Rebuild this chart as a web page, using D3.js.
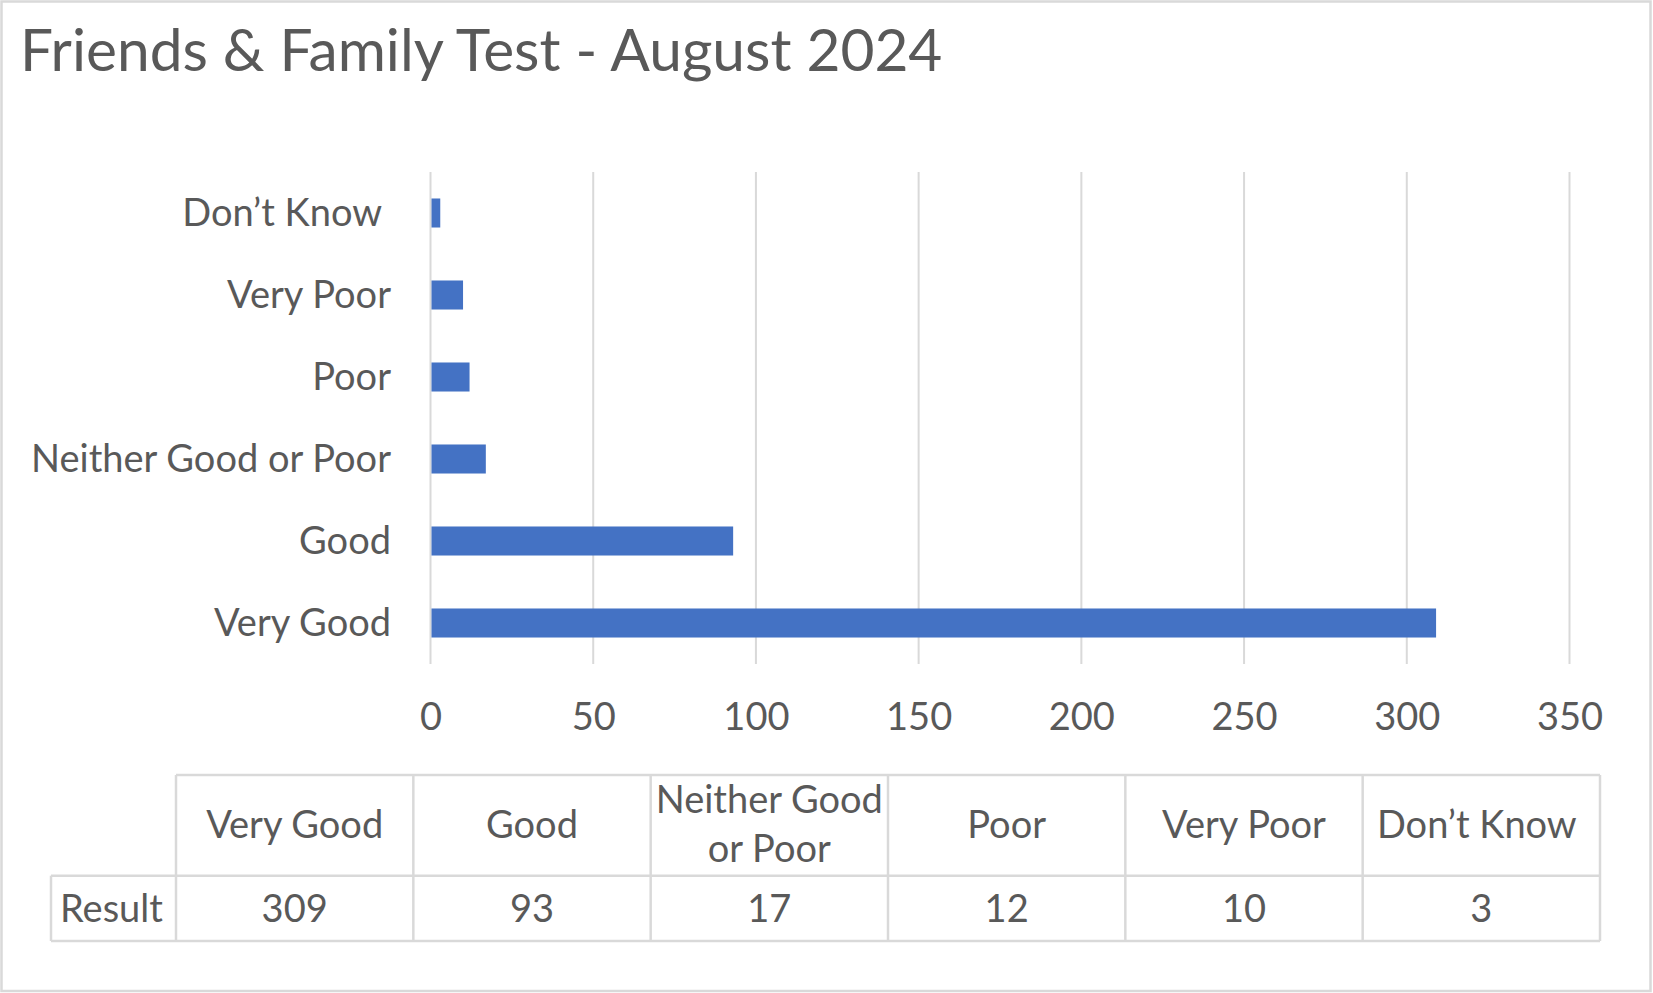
<!DOCTYPE html>
<html><head><meta charset="utf-8">
<script src="https://cdn.jsdelivr.net/npm/d3@7"></script>
<style>
body{margin:0;background:#fff}
text{font-family:Lato,"Open Sans",sans-serif;fill:#595959;white-space:pre}
</style>
</head><body><svg id="c" width="1653" height="993"></svg>
<script>
const title = "Friends & Family Test - August 2024";
const categories = ["Very Good","Good","Neither Good or Poor","Poor","Very Poor","Don’t Know "];
const values = [309,93,17,12,10,3];
const tickValues = [0,50,100,150,200,250,300,350];
const tableHeaders = [["Very Good"],["Good"],["Neither Good","or Poor"],["Poor"],["Very Poor"],["Don’t Know "]];
const rowLabel = "Result";

(function(){
const svg = d3.select("#c");
const grey = "#d9d9d9";
const blue = "#4472C4";
const data = categories.map((c,i)=>({c, v: values[i]}));

svg.append("rect").attr("x",1.5).attr("y",1.5).attr("width",1649).attr("height",989.5)
  .attr("fill","#fff").attr("stroke",grey).attr("stroke-width",2.5);

svg.append("text").attr("x",20).attr("y",70.5).attr("font-size",58.6).text(title);

const x = d3.scaleLinear().domain([0,350]).range([430.5,1569.5]);
const y = d3.scaleBand().domain(categories.slice().reverse()).range([172,664])
  .paddingInner(0.646).paddingOuter(0.323);

svg.append("g").selectAll("line").data(tickValues).join("line")
  .attr("x1",d=>x(d)).attr("x2",d=>x(d)).attr("y1",172).attr("y2",664)
  .attr("stroke",grey).attr("stroke-width",2);

svg.append("g").selectAll("rect").data(data).join("rect")
  .attr("x",x(0)+1).attr("y",d=>y(d.c)).attr("height",y.bandwidth())
  .attr("width",d=>x(d.v)-x(0)-1).attr("fill",blue);

const xa = svg.append("g").attr("transform","translate(0,717)")
  .call(d3.axisBottom(x).tickValues(tickValues).tickSize(0).tickPadding(0));
xa.select(".domain").remove();
xa.attr("font-family",null).attr("font-size",null);
xa.selectAll("text").attr("font-size",38).attr("fill","#595959").attr("dy","0.35em").attr("y",0);

const ya = svg.append("g").attr("transform","translate(391,0)")
  .call(d3.axisLeft(y).tickSize(0).tickPadding(0));
ya.select(".domain").remove();
ya.attr("font-family",null).attr("font-size",null);
ya.selectAll("text").attr("font-size",38).attr("fill","#595959").attr("dy","0.35em");

const tx = d3.scaleBand().domain(categories).range([176,1600]);
const tTop = 775, tMid = 875.7, tBot = 941, tLeft = 51, tRight = 1600;
const tg = svg.append("g");
tg.append("line").attr("x1",tx.range()[0]).attr("x2",tRight).attr("y1",tTop).attr("y2",tTop);
tg.append("line").attr("x1",tLeft).attr("x2",tRight).attr("y1",tMid).attr("y2",tMid);
tg.append("line").attr("x1",tLeft).attr("x2",tRight).attr("y1",tBot).attr("y2",tBot);
tg.append("line").attr("x1",tLeft).attr("x2",tLeft).attr("y1",tMid).attr("y2",tBot);
const edges = categories.map(c=>tx(c)).concat([tRight]);
tg.selectAll("line.v").data(edges).join("line").attr("class","v")
  .attr("x1",d=>d).attr("x2",d=>d).attr("y1",tTop).attr("y2",tBot);
tg.selectAll("line").attr("stroke",grey).attr("stroke-width",2.5);

tg.selectAll("text.h").data(tableHeaders).join("text").attr("class","h")
  .attr("text-anchor","middle").attr("font-size",38)
  .each(function(lines,i){
    const t = d3.select(this);
    const cx = tx(categories[i]) + tx.bandwidth()/2;
    const cy = (tTop+tMid)/2 - 1;
    const lh = 49;
    lines.forEach((l,j)=>{
      t.append("tspan").attr("x",cx)
        .attr("y", cy + (j - (lines.length-1)/2)*lh)
        .attr("dy","0.35em").text(l);
    });
  });
tg.selectAll("text.v").data(values).join("text").attr("class","v")
  .attr("text-anchor","middle").attr("font-size",38)
  .attr("x",(d,i)=>tx(categories[i])+tx.bandwidth()/2)
  .attr("y",(tMid+tBot)/2).attr("dy","0.35em").text(d=>d);
tg.append("text").attr("x",tLeft+9).attr("y",(tMid+tBot)/2).attr("dy","0.35em")
  .attr("font-size",38).text(rowLabel);
})();
</script>
</body></html>
